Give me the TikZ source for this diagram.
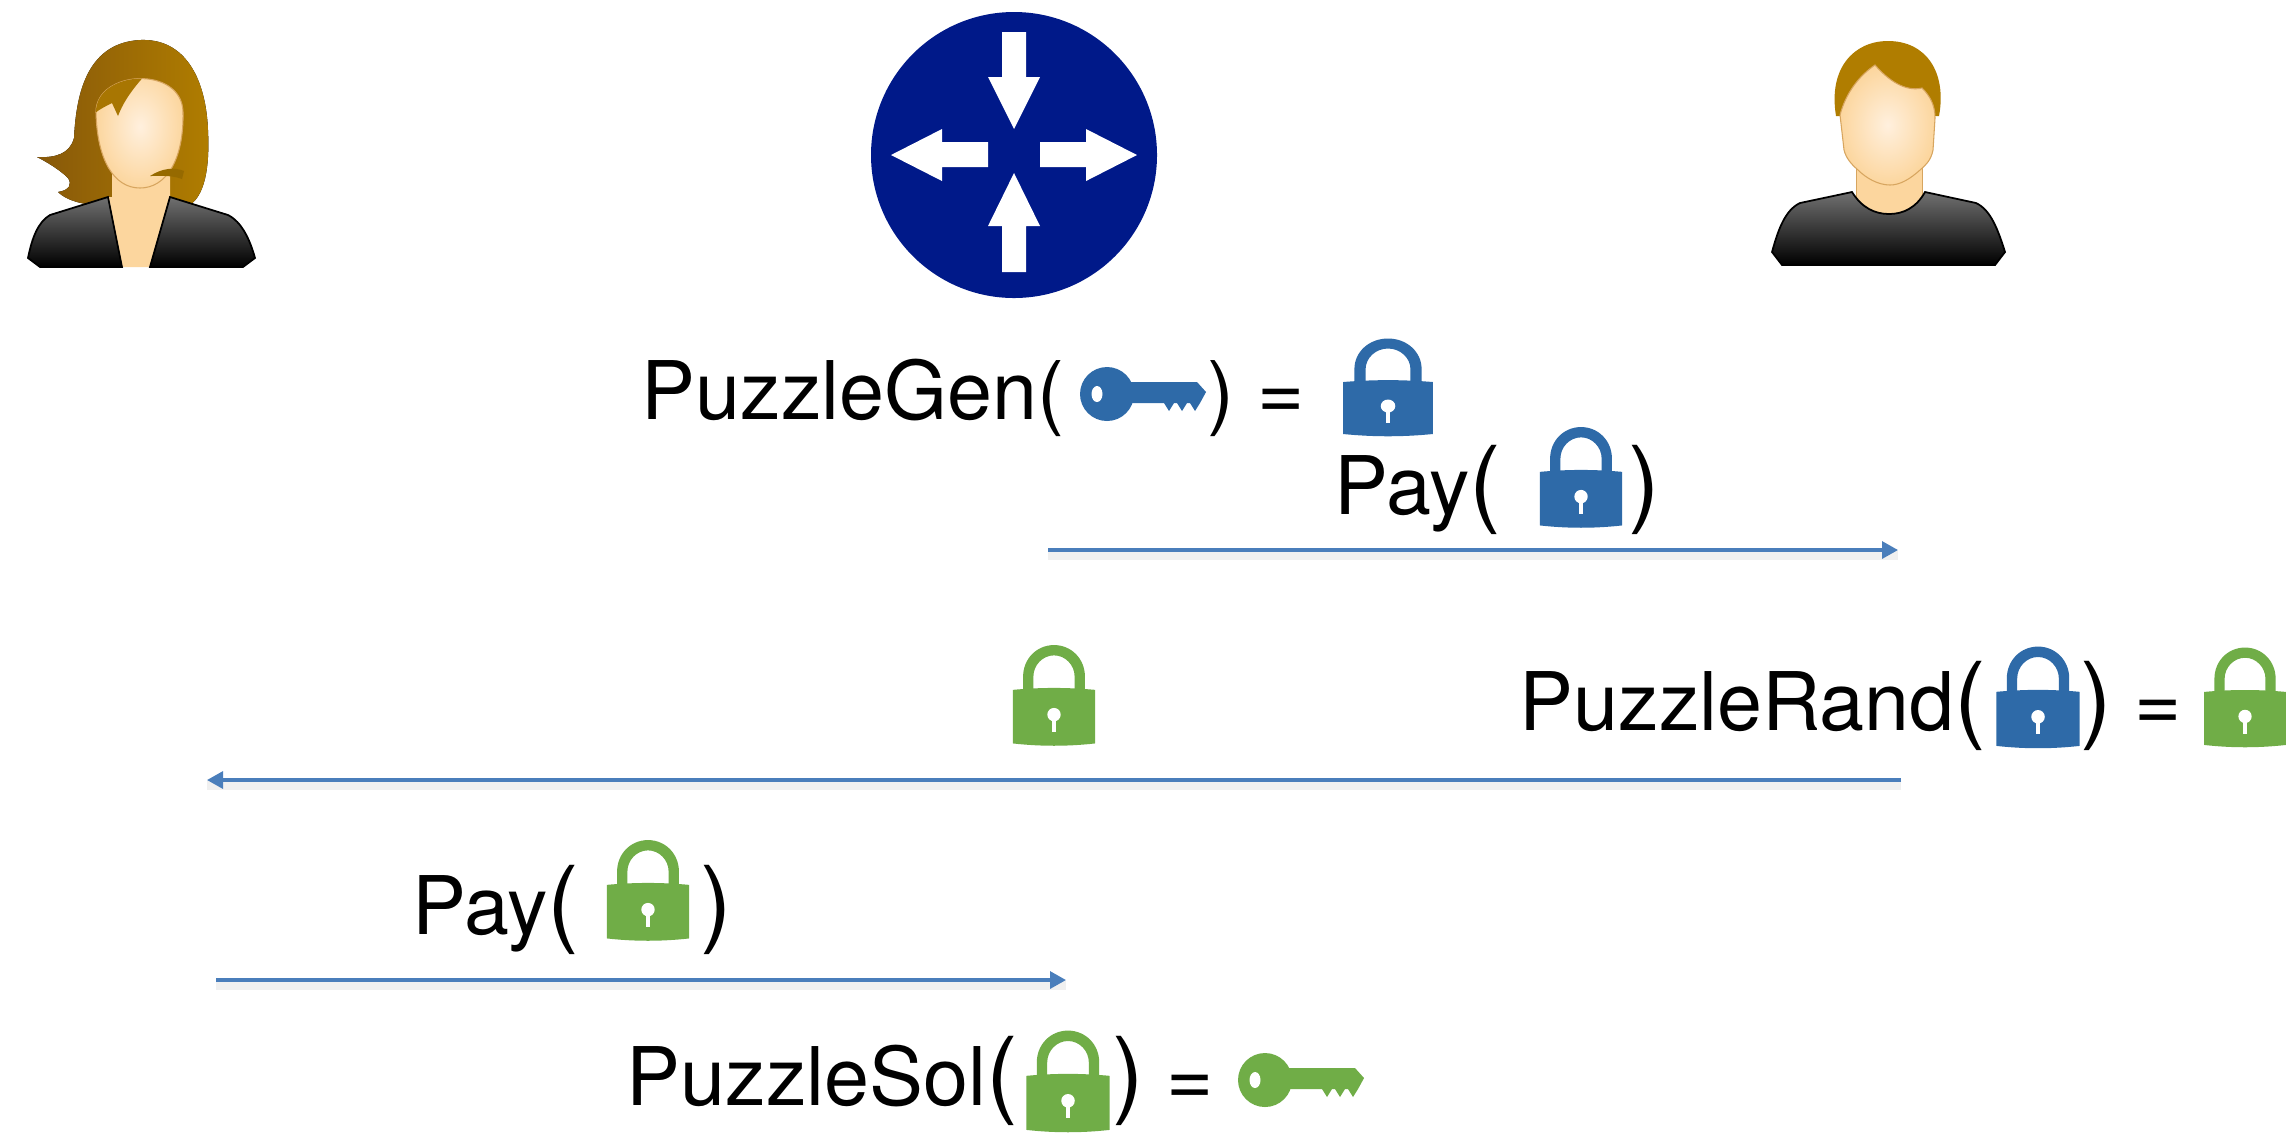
\documentclass[tikz,border=0pt]{standalone}
\usepackage{fontspec}
\setmainfont{TeX Gyre Heros}
\usetikzlibrary{arrows.meta}

\definecolor{lockblue}{RGB}{46,106,168}
\definecolor{lockgreen}{RGB}{112,173,71}
\definecolor{routerblue}{RGB}{0,25,137}
\definecolor{msgblue}{RGB}{74,126,187}
\definecolor{hair}{RGB}{176,125,0}
\definecolor{hairdark}{RGB}{135,88,10}
\definecolor{skin}{RGB}{252,214,158}
\definecolor{skinlight}{RGB}{255,240,222}
\definecolor{skinline}{RGB}{215,165,95}
\definecolor{suit}{RGB}{112,112,112}

\newcommand\bigparen[1]{{\fontsize{27}{30}\selectfont#1}}

\tikzset{
  txt/.style={inner sep=0pt, anchor=base west, font=\fontsize{23}{27}\selectfont},
  msg/.style={draw=msgblue, line width=0.9pt, -{Triangle[length=0.16cm,width=0.17cm]}},
  msgshadow/.style={draw=black!6, line width=2.6pt},
  % padlock, centred on its outline, 80 x 97 units
  pics/lock/.style={code={
    \fill[#1] (-30,-4) -- (-30,-18) .. controls (-30,-35) and (-17,-48.5) .. (0,-48.5)
      .. controls (17,-48.5) and (30,-35) .. (30,-18) -- (30,-4) -- (20,-4) -- (20,-18)
      .. controls (20,-29) and (11,-38.5) .. (0,-38.5) .. controls (-11,-38.5) and (-20,-29) .. (-20,-18)
      -- (-20,-4) -- cycle;
    \fill[#1] (-40,-5) .. controls (-13,-7.5) and (13,-7.5) .. (40,-5) -- (40,47)
      .. controls (13,50) and (-13,50) .. (-40,47) -- cycle;
    \fill[white] (0,19) circle [radius=6.5];
    \fill[white] (-2,19) rectangle (2,36);
  }},
  % key, origin at the centre of its bow
  pics/key/.style={code={
    \fill[#1] (0,0) circle [radius=27];
    \fill[#1] (12,-12) -- (90,-12) -- (99,-2) -- (93,9) -- (88,17) -- (83,9) -- (80,9)
      -- (75,17) -- (70,9) -- (67,9) -- (62,17) -- (57,9) -- (12,9) -- cycle;
    \fill[white] (-10,0) ellipse [x radius=5.5, y radius=8];
  }}
}

\begin{document}
\begin{tikzpicture}[x=0.01cm, y=-0.01cm]
\fill[white] (0,0) rectangle (2289,1132);
\useasboundingbox (0,0) rectangle (2289,1132);

% ---- sender (woman) ----
\fill[left color=hairdark, right color=hair]
  (140,40) .. controls (186,38) and (206,80) .. (208,130)
  .. controls (210,170) and (204,195) .. (190,205) -- (100,205)
  .. controls (82,205) and (66,200) .. (58,192)
  .. controls (70,190) and (72,184) .. (68,178)
  .. controls (60,170) and (47,162) .. (37,157)
  .. controls (55,158) and (70,154) .. (74,138)
  .. controls (76,100) and (84,43) .. (140,40) -- cycle;
\fill[skin] (112,160) -- (112,197) -- (108,197) -- (122,267) -- (150,267) -- (170,197) -- (170,160) -- cycle;
\shadedraw[top color=suit, bottom color=black, draw=black, line width=0.5pt]
  (28,258) .. controls (32,238) and (38,222) .. (50,215) -- (108,197) -- (122,267) -- (40,267) -- cycle;
\shadedraw[top color=suit, bottom color=black, draw=black, line width=0.5pt]
  (170,197) -- (228,215) .. controls (242,222) and (250,240) .. (255,258) -- (243,267) -- (150,267) -- cycle;
\shadedraw[inner color=skinlight, outer color=skin, draw=skinline, line width=0.3pt]
  (96,112) .. controls (96,70) and (182,65) .. (183,112)
  .. controls (184,160) and (166,188) .. (140,188)
  .. controls (114,188) and (97,160) .. (96,112) -- cycle;
\begin{scope}
  \clip (96,112) .. controls (96,70) and (182,65) .. (183,112)
    .. controls (184,160) and (166,188) .. (140,188)
    .. controls (114,188) and (97,160) .. (96,112) -- cycle;
  \fill[hair!80!hairdark] (88,55) -- (152,55) .. controls (150,64) and (148,70) .. (147,73)
    .. controls (135,86) and (124,100) .. (118,116) -- (112,103)
    .. controls (106,106) and (100,109) .. (95,113) -- (88,100) -- cycle;
\end{scope}
\fill[hair!85!black] (150,176) .. controls (162,168) and (175,167) .. (184,171) -- (182,179)
  .. controls (172,175) and (160,176) .. (150,176) -- cycle;

% ---- receiver (man) ----
\fill[hair] (1836,116) .. controls (1828,68) and (1854,41) .. (1888,41)
  .. controls (1926,41) and (1947,72) .. (1939,116) -- cycle;
\filldraw[fill=skin, draw=skinline, line width=0.3pt] (1856,160) -- (1856,218) -- (1922,218) -- (1922,160) -- cycle;
\shadedraw[top color=suit, bottom color=black, draw=black, line width=0.5pt]
  (1772,252) .. controls (1778,230) and (1785,210) .. (1800,203) -- (1852,192)
  .. controls (1862,208) and (1875,214) .. (1889,214)
  .. controls (1903,214) and (1916,208) .. (1925,192) -- (1976,203)
  .. controls (1991,210) and (1998,230) .. (2005,252) -- (1995,265) -- (1782,265) -- cycle;
\shadedraw[inner color=skinlight, outer color=skin, draw=skinline, line width=0.3pt]
  (1840,115) .. controls (1846,92) and (1860,75) .. (1875,65)
  .. controls (1888,80) and (1905,92) .. (1922,88)
  .. controls (1930,96) and (1935,105) .. (1935,118) -- (1933,150)
  .. controls (1931,160) and (1926,165) .. (1920,170)
  .. controls (1910,179) and (1900,185) .. (1890,185)
  .. controls (1878,185) and (1866,178) .. (1858,170)
  .. controls (1851,164) and (1846,158) .. (1844,150) -- cycle;

% ---- router ----
\fill[routerblue] (1014,155) circle [radius=143];
\fill[white] (1002,32) -- (1026,32) -- (1026,77) -- (1040,77) -- (1014,129) -- (988,77) -- (1002,77) -- cycle;
\fill[white] (1002,272) -- (1026,272) -- (1026,226) -- (1040,226) -- (1014,173) -- (988,226) -- (1002,226) -- cycle;
\fill[white] (988,142) -- (988,167) -- (942,167) -- (942,181) -- (891,155) -- (942,129) -- (942,142) -- cycle;
\fill[white] (1040,142) -- (1040,167) -- (1086,167) -- (1086,181) -- (1137,155) -- (1086,129) -- (1086,142) -- cycle;

% ---- step 1: puzzle generation ----
\node[txt] (gen) at (641,419) {PuzzleGen(};
\pic (k1) at (1107,394) {key=lockblue};
\node[txt] (genr) at (1207,419) {) =};
\pic[xscale=1.12] (l1) at (1388,387) {lock=lockblue};

% ---- step 2: payment with blue puzzle ----
\node[txt] (payA) at (1334,514) {Pay\bigparen{(}};
\pic[scale=1.03] (l2) at (1581,477) {lock=lockblue};
\node[txt] (payAr) at (1628,514) {\bigparen{)}};
\coordinate (m1s) at (1048,550);
\coordinate (m1e) at (1898,550);
\draw[msgshadow] ([yshift=-1.6pt]m1s) -- ([yshift=-1.6pt]m1e);
\draw[msg] (m1s) -- (m1e);

% ---- step 3: randomised puzzle ----
\pic[scale=1.03] (l3) at (1054,695) {lock=lockgreen};
\node[txt] (rand) at (1519,730) {PuzzleRand\bigparen{(}};
\pic[scale=1.04] (l4) at (2038,697) {lock=lockblue};
\node[txt] (randr) at (2080,730) {\bigparen{)} =};
\pic[scale=1.02] (l5) at (2245,697) {lock=lockgreen};
\coordinate (m2s) at (1901,780);
\coordinate (m2e) at (207,780);
\draw[msgshadow] ([yshift=-1.6pt]m2s) -- ([yshift=-1.6pt]m2e);
\draw[msg] (m2s) -- (m2e);

% ---- step 4: payment with green puzzle ----
\node[txt] (payB) at (412,934) {Pay\bigparen{(}};
\pic[scale=1.03] (l6) at (648,890) {lock=lockgreen};
\node[txt] (payBr) at (700,934) {\bigparen{)}};
\coordinate (m3s) at (216,980);
\coordinate (m3e) at (1066,980);
\draw[msgshadow] ([yshift=-1.6pt]m3s) -- ([yshift=-1.6pt]m3e);
\draw[msg] (m3s) -- (m3e);

% ---- step 5: puzzle solution ----
\node[txt] (sol) at (626,1105) {PuzzleSol\bigparen{(}};
\pic[scale=1.04] (l7) at (1068,1081) {lock=lockgreen};
\node[txt] (solr) at (1112,1105) {\bigparen{)} =};
\pic (k2) at (1265,1080) {key=lockgreen};
\end{tikzpicture}
\end{document}
